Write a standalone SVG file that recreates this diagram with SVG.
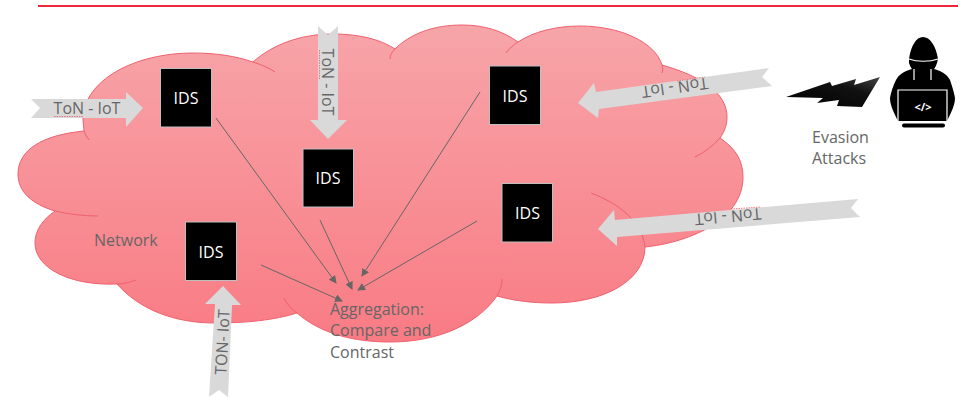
<svg xmlns="http://www.w3.org/2000/svg" width="960" height="398" viewBox="0 0 960 398">
<style>
text{font-family:"Open Sans","Noto Sans","Liberation Sans",sans-serif}
.lbl{font-size:16px;fill:#666}
.ar{font-size:16px;fill:#666;text-anchor:middle;dominant-baseline:central}
.ids{fill:#000;stroke:#bfbfbf;stroke-width:1}
.idt{font-size:16px;fill:#fff;text-anchor:middle;dominant-baseline:central}
.arw{fill:#d9d9d9}
.cl{fill:none;stroke:#f0606e;stroke-width:1}
.con{fill:none;stroke:#666;stroke-width:1;marker-end:url(#h)}
.sq{fill:none;stroke:#e8606a;stroke-width:.8;stroke-dasharray:1.5 1}
</style>
<defs>
<linearGradient id="cg" gradientUnits="userSpaceOnUse" x1="0" y1="25" x2="0" y2="342"><stop offset="0" stop-color="#f7a5a9"/><stop offset="1" stop-color="#f97b84"/></linearGradient>
<linearGradient id="lg" x1="0" y1="1" x2="1" y2="0"><stop offset="0" stop-color="#000"/><stop offset=".65" stop-color="#111"/><stop offset="1" stop-color="#444"/></linearGradient>
<marker id="h" viewBox="0 0 8 8" refX="7" refY="4" markerWidth="8" markerHeight="8" markerUnits="userSpaceOnUse" orient="auto"><path d="M0 0L8 4L0 8Z" fill="#666"/></marker>
</defs>
<rect width="960" height="398" fill="#fff"/>
<rect x="38" y="5" width="920" height="2" fill="#f0283c"/>
<g id="cloud">
<path fill="url(#cg)" stroke="#f0606e" stroke-width="1" d="M84 131C42 135 18 150 18 174C18 192 32 204 55 211C42 220 35 231 35 243C35 268 70 286 117 284C140 310 175 323 215 323C247 323 275 320 297 313C320 333 352 342 390 342C440 342 478 323 497 296C515 301 533 303 552 303C605 303 645 280 645 247C685 243 743 222 743 177C743 160 735 148 720 138C725 131 727 124 727 117C727 92 700 76 662 65C655 42 620 26 580 26C555 26 533 32 518 42C503 31 484 25 462 25C433 25 410 34 395 49C380 39 358 34 333 34C300 34 272 45 253 62C236 56 215 53 193 53C135 53 83 80 83 120Z"/>
<path class="cl" d="M253 62C262 65 269 68 275 72M395 49C392 52 390 55 390 59M518 42C513 45 509 49 506 53M662 65C663 68 663 70 662 73M720 138C713 146 705 152 695 157M591 193C620 204 642 222 645 247M497 296C500 291 502 285 502 279M297 313C291 309 287 304 284 298M117 284C124 284 130 282 136 280M55 211C68 214 82 216 98 216M84 131C85 134 87 137 89 140"/>
</g>
<g id="connectors">
<path class="con" d="M216 118L336 283"/>
<path class="con" d="M320 220L352 289"/>
<path class="con" d="M480 92L362 276"/>
<path class="con" d="M477 221L358 290"/>
<path class="con" d="M261 265L342 301"/>
</g>
<g id="arrow-left">
<path class="arw" d="M31 99H126V92L143 108L126 127V118H31L40 108Z"/>
<text class="ar" x="87" y="108">ToN - IoT</text>
<path class="sq" d="M54 116.500H84"/>
</g>
<g id="arrow-top">
<path class="arw" d="M318 26L328 35L338 26V120H347L328 139L310 120H318Z"/>
<text class="ar" transform="translate(328 82) rotate(90)">ToN - IoT</text>
<path class="sq" d="M319.500 50V79"/>
</g>
<g id="arrow-right-1">
<path class="arw" d="M769 68L762 77L772 86L599 109L598 118L578 103L594 83L596 92Z"/>
<text class="ar" transform="translate(675 88) rotate(172)">ToN - IoT</text>
<path class="sq" d="M677 81L705 77"/>
</g>
<g id="arrow-right-2">
<path class="arw" d="M858 199L851 208L860 217L617 237L617 246L598 229L614 210L615 220Z"/>
<text class="ar" transform="translate(728 217) rotate(175)">ToN - IoT</text>
<path class="sq" d="M731 209L761 207"/>
</g>
<g id="arrow-bottom">
<path class="arw" d="M223 286L241 305H232L228 397L219 390L209 397L215 304H205Z"/>
<text class="ar" transform="translate(222 342) rotate(-87)">TON- IoT</text>
</g>
<g id="ids-1"><rect class="ids" x="160.500" y="68.500" width="51" height="58.500"/><text class="idt" x="186" y="98">IDS</text></g>
<g id="ids-2"><rect class="ids" x="303" y="149" width="50.500" height="58"/><text class="idt" x="328" y="178">IDS</text></g>
<g id="ids-3"><rect class="ids" x="489.500" y="66" width="51" height="58.500"/><text class="idt" x="515" y="96">IDS</text></g>
<g id="ids-4"><rect class="ids" x="502" y="183.500" width="50.500" height="58.500"/><text class="idt" x="527.500" y="213">IDS</text></g>
<g id="ids-5"><rect class="ids" x="185.500" y="222" width="51" height="58.500"/><text class="idt" x="211" y="252">IDS</text></g>
<g id="labels">
<text class="lbl" x="94" y="246">Network</text>
<text class="lbl"><tspan x="330" y="315">Aggregation:</tspan><tspan x="330" y="336">Compare and</tspan><tspan x="330" y="358">Contrast</tspan></text>
<text class="lbl"><tspan x="812" y="143">Evasion</tspan><tspan x="812" y="164">Attacks</tspan></text>
</g>
<g id="lightning"><path fill="url(#lg)" d="M786 97L830 82L832 86L856 79L854 85L880 77L862 107L837 106L839 100L817 103L823 98Z"/></g>
<g id="hacker">
<path fill="#000" d="M909 59C911 46 916 37 923 37C930 37 936 46 938 59L937 63C936 66 935 68 934 69C941 71 947 74 950 80C952 86 954 92 955 98C955 105 951 113 947 121H898C894 113 890 105 890 98C891 92 893 86 896 80C899 74 905 71 912 69C911 68 910 66 909 63Z"/>
<path fill="none" stroke="#fff" stroke-width="1.200" d="M909 59C917 62 930 62 938 59M914 69V80M931 69V80M898 122V90H947V122"/>
<rect x="902" y="123.500" width="43" height="4" rx="2" fill="#000"/>
<text x="923" y="111" font-size="11" font-weight="700" fill="#fff" text-anchor="middle">&lt;/&gt;</text>
</g>
</svg>
